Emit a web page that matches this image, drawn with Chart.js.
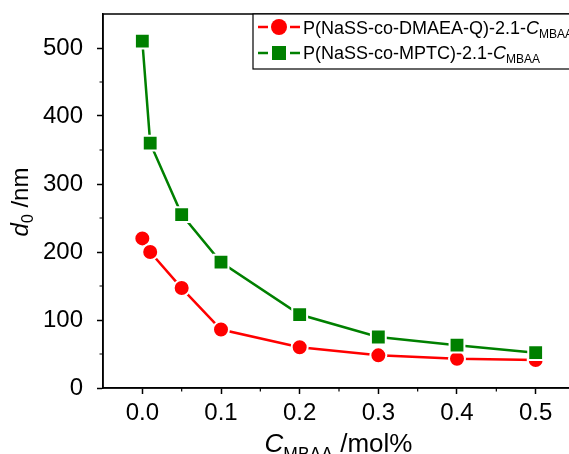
<!DOCTYPE html>
<html><head><meta charset="utf-8">
<script src="https://cdn.jsdelivr.net/npm/chart.js@4"></script>
<style>html,body{margin:0;padding:0;overflow:hidden;background:#fff;width:569px;height:454px}</style>
</head><body>
<canvas id="c" width="600" height="454"></canvas>
<script>
const cMBAA = [0, 0.01, 0.05, 0.1, 0.2, 0.3, 0.4, 0.5];
const dmaeaQ = [220, 200, 147, 86, 60, 48, 43, 41];
const mptc = [510, 360, 255, 185, 108, 75, 63, 52];
const xTicks = [0, 0.1, 0.2, 0.3, 0.4, 0.5];
const yTicks = [0, 100, 200, 300, 400, 500];
const xMinor = [0.05, 0.15, 0.25, 0.35, 0.45];
const yMinor = [50, 150, 250, 350, 450];
const seriesNames = ['P(NaSS-co-DMAEA-Q)-2.1-', 'P(NaSS-co-MPTC)-2.1-'];
const RED = '#ff0000', GREEN = '#008000';
const FONT = '"Liberation Sans", Arial, sans-serif';

function pts(ys){ return cMBAA.map((x,i)=>({x:x,y:ys[i]})); }

const deco = {
  id:'deco',
  afterDraw(chart){
    const ctx = chart.ctx, a = chart.chartArea, xs = chart.scales.x, ys = chart.scales.y;
    ctx.save();
    ctx.strokeStyle = '#000'; ctx.lineWidth = 1.5;
    ctx.strokeRect(a.left, a.top, a.right - a.left, a.bottom - a.top);
    // minor ticks
    ctx.lineWidth = 1.2;
    ctx.beginPath();
    xMinor.forEach(v=>{ const px = xs.getPixelForValue(v); ctx.moveTo(px, a.bottom); ctx.lineTo(px, a.bottom + 3.5); });
    yMinor.forEach(v=>{ const py = ys.getPixelForValue(v); ctx.moveTo(a.left, py); ctx.lineTo(a.left - 3.5, py); });
    ctx.stroke();
    // legend
    const lx = 253, ly = 14, lh = 55;
    ctx.fillStyle = '#fff';
    ctx.fillRect(lx, ly, 400, lh);
    ctx.lineWidth = 1.2;
    ctx.strokeRect(lx, ly, 400, lh);
    const rows = [{c:RED, y:27, shape:'circle', bl:34}, {c:GREEN, y:53, shape:'rect', bl:59}];
    rows.forEach((r,i)=>{
      ctx.strokeStyle = r.c; ctx.lineWidth = 2.5;
      ctx.beginPath(); ctx.moveTo(258, r.y); ctx.lineTo(268, r.y); ctx.moveTo(290, r.y); ctx.lineTo(300, r.y); ctx.stroke();
      ctx.fillStyle = r.c;
      ctx.beginPath();
      if (r.shape === 'circle') ctx.arc(279, r.y, 8, 0, Math.PI*2); else ctx.rect(272, r.y - 7, 14, 14);
      ctx.fill();
      ctx.fillStyle = '#000';
      ctx.textBaseline = 'alphabetic'; ctx.textAlign = 'left';
      ctx.font = '18px ' + FONT;
      ctx.fillText(seriesNames[i], 303, r.bl);
      let w = ctx.measureText(seriesNames[i]).width;
      ctx.font = 'italic 18px ' + FONT;
      ctx.fillText('C', 303 + w, r.bl);
      w += ctx.measureText('C').width;
      ctx.font = '12px ' + FONT;
      ctx.fillText('MBAA', 303 + w, r.bl + 4);
    });
    // y title
    ctx.save();
    ctx.translate(28, 202);
    ctx.rotate(-Math.PI/2);
    ctx.fillStyle = '#000'; ctx.textBaseline = 'alphabetic';
    ctx.font = 'italic 24px ' + FONT;
    const wd = ctx.measureText('d').width;
    ctx.font = '16px ' + FONT;
    const w0 = ctx.measureText('0').width;
    ctx.font = '24px ' + FONT;
    const wn = ctx.measureText(' /nm').width;
    let sx = -(wd + w0 + wn)/2;
    ctx.font = 'italic 24px ' + FONT; ctx.textAlign = 'left';
    ctx.fillText('d', sx, 0); sx += wd;
    ctx.font = '16px ' + FONT; ctx.fillText('0', sx, 5); sx += w0;
    ctx.font = '24px ' + FONT; ctx.fillText(' /nm', sx, 0);
    ctx.restore();
    // x title
    ctx.fillStyle = '#000'; ctx.textBaseline = 'alphabetic'; ctx.textAlign = 'left';
    ctx.font = 'italic 26px ' + FONT;
    const wc = ctx.measureText('C').width;
    ctx.font = '17.5px ' + FONT;
    const wm = ctx.measureText('MBAA').width;
    ctx.font = '26px ' + FONT;
    const wu = ctx.measureText(' /mol%').width;
    let tx = 338.5 - (wc + wm + wu)/2;
    const by = 452;
    ctx.font = 'italic 26px ' + FONT; ctx.fillText('C', tx, by); tx += wc;
    ctx.font = '17.5px ' + FONT; ctx.fillText('MBAA', tx, by + 8); tx += wm;
    ctx.font = '26px ' + FONT; ctx.fillText(' /mol%', tx, by);
    ctx.restore();
  }
};

new Chart(document.getElementById('c'), {
  type: 'line',
  data: {
    datasets: [
      {label: seriesNames[0], data: pts(dmaeaQ), borderColor: RED, backgroundColor: RED,
       pointBackgroundColor: RED, pointBorderColor: '#fff', pointBorderWidth: 2, pointRadius: 8,
       pointStyle: 'circle', borderWidth: 2.5, order: 2},
      {label: seriesNames[1], data: pts(mptc), borderColor: GREEN, backgroundColor: GREEN,
       pointBackgroundColor: GREEN, pointBorderColor: '#fff', pointBorderWidth: 2, pointRadius: 10.5,
       pointStyle: 'rect', borderWidth: 2.5, order: 1}
    ]
  },
  options: {
    responsive: false, animation: false,
    layout: {padding: {left: 0, top: 14, right: 25, bottom: 0}},
    plugins: {legend: {display: false}, tooltip: {enabled: false}},
    scales: {
      x: {type: 'linear', min: -0.05, max: 0.55,
        afterBuildTicks(s){ s.ticks = xTicks.map(v=>({value:v})); },
        afterFit(s){ s.height = 66; s.paddingLeft = 0; s.paddingRight = 0; },
        grid: {drawOnChartArea: false, tickLength: 6, tickColor: '#000', tickWidth: 1.5},
        border: {color: '#000', width: 1.5},
        ticks: {color: '#000', font: {family: FONT, size: 24}, padding: 5, maxRotation: 0,
          callback: v => v.toFixed(1)}
      },
      y: {type: 'linear', min: 0, max: 550,
        afterBuildTicks(s){ s.ticks = yTicks.map(v=>({value:v})); },
        afterFit(s){ s.width = 103; s.paddingTop = 0; s.paddingBottom = 0; },
        grid: {drawOnChartArea: false, tickLength: 6, tickColor: '#000', tickWidth: 1.5},
        border: {color: '#000', width: 1.5},
        ticks: {color: '#000', font: {family: FONT, size: 24}, padding: 14}
      }
    }
  },
  plugins: [deco]
});
</script>
</body></html>
